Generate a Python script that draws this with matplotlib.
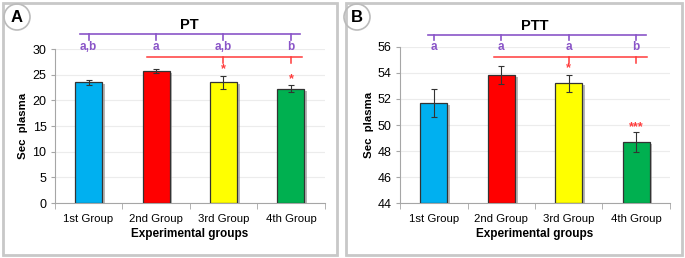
import matplotlib.pyplot as plt
import matplotlib.patheffects as pe
from matplotlib.patches import FancyBboxPatch, Circle
import numpy as np

plt.rcParams['font.family'] = ['Liberation Sans', 'DejaVu Sans']

groups = ['1st Group', '2nd Group', '3rd Group', '4th Group']
colors = ['#00B0F0', '#FF0000', '#FFFF00', '#00B050']

pt_mean = [23.5, 25.7, 23.5, 22.3]
pt_err = [0.5, 0.35, 1.25, 0.7]
pt_letters = ['a,b', 'a', 'a,b', 'b']
pt_stars = ['', '', '*', '*']

ptt_mean = [51.7, 53.85, 53.2, 48.7]
ptt_err = [1.1, 0.72, 0.65, 0.77]
ptt_letters = ['a', 'a', 'a', 'b']
ptt_stars = ['', '', '*', '***']

purple = '#8a55c8'
red_ann = '#ff3b3b'
spine_col = '#a6a6a6'

fig = plt.figure(figsize=(6.85, 2.58), dpi=100)

# panel frames
for x0, w in [(0.004, 0.488), (0.505, 0.490)]:
    fig.patches.append(FancyBboxPatch((x0, 0.012), w, 0.976,
                                      boxstyle='square,pad=0', transform=fig.transFigure,
                                      fill=False, edgecolor='#c8c8c8', linewidth=2))


def panel(rect, mean, err, ylim, step, title, letters, stars,
          purple_y, purple_tick, letter_y, purple_span, red_y, red_tick, red_span, star_y):
    ax = fig.add_axes(rect)
    x = np.arange(len(groups))
    bars = ax.bar(x, [m - ylim[0] for m in mean], bottom=ylim[0], width=0.4,
                  color=colors, edgecolor='#333333', linewidth=0.9, zorder=3)
    for b in bars:
        b.set_path_effects([pe.SimplePatchShadow(offset=(2, -1.5), shadow_rgbFace='#888888', alpha=0.6),
                            pe.Normal()])
    ax.errorbar(x, mean, yerr=err, fmt='none', ecolor='#333333', elinewidth=0.8,
                capsize=2.5, capthick=0.8, zorder=4)

    ax.set_xlim(-0.5, 3.5)
    ax.set_ylim(*ylim)
    ax.set_yticks(np.arange(ylim[0], ylim[1] + 0.1, step))
    ax.set_xticks(x)
    ax.set_xticklabels(groups)
    ax.set_xticks(np.arange(-0.5, 3.6, 1), minor=True)
    ax.tick_params(axis='x', which='major', length=0, labelsize=8.2, pad=8)
    ax.tick_params(axis='x', which='minor', length=4, color=spine_col)
    ax.tick_params(axis='y', length=3, color=spine_col, labelsize=9, pad=3)
    for s in ['top', 'right']:
        ax.spines[s].set_visible(False)
    for s in ['left', 'bottom']:
        ax.spines[s].set_color(spine_col)
    ax.grid(axis='y', color='#ececec', linewidth=0.8, zorder=0)
    ax.set_axisbelow(True)
    ax.set_ylabel('Sec  plasma', fontweight='bold', fontsize=8.2, labelpad=3)
    ax.set_xlabel('Experimental groups', fontweight='bold', fontsize=8.5, labelpad=3)

    # purple letters bracket
    ax.plot(purple_span, [purple_y, purple_y], color=purple, lw=1.2, clip_on=False)
    for i, lab in enumerate(letters):
        ax.plot([i, i], [purple_y, purple_tick], color=purple, lw=1.2, clip_on=False)
        ax.text(i, letter_y, lab, color=purple, fontweight='bold', fontsize=8.5,
                ha='center', va='center', clip_on=False)
    # red significance bracket
    ax.plot(red_span, [red_y, red_y], color=red_ann, lw=1.1, clip_on=False)
    for i in (2, 3):
        ax.plot([i, i], [red_y, red_tick], color=red_ann, lw=1.1, clip_on=False)
    for i, st in enumerate(stars):
        if st:
            ax.text(i, star_y[i], st, color=red_ann, fontweight='bold', fontsize=9,
                    ha='center', va='center')

    ax.text(1.5, purple_y + (ylim[1] - ylim[0]) * 0.06, title, ha='center', va='center',
            fontweight='bold', fontsize=10.5, clip_on=False)
    return ax


axA = panel([0.080, 0.213, 0.394, 0.597], pt_mean, pt_err, (0, 30), 5, 'PT',
            pt_letters, pt_stars,
            purple_y=32.9, purple_tick=31.8, letter_y=30.4, purple_span=[-0.13, 3.13],
            red_y=28.45, red_tick=27.3, red_span=[0.86, 3.16],
            star_y=[0, 0, 26.1, 24.2])

axB = panel([0.584, 0.213, 0.394, 0.605], ptt_mean, ptt_err, (44, 56), 2, 'PTT',
            ptt_letters, ptt_stars,
            purple_y=56.92, purple_tick=56.5, letter_y=56.0, purple_span=[-0.085, 3.14],
            red_y=55.23, red_tick=54.8, red_span=[0.89, 3.16],
            star_y=[0, 0, 54.38, 49.85])

# panel tags in circles
for cx, tag in [(17 / 685, 'A'), (357 / 685, 'B')]:
    fig.patches.append(Circle((cx * 685, 241), 13, transform=None, fill=False,
                              edgecolor='#bbbbbb', linewidth=1.2))
    fig.text(cx, 1 - 17 / 258, tag, ha='center', va='center', fontweight='bold', fontsize=12)

fig.savefig('out.png', dpi=100)
